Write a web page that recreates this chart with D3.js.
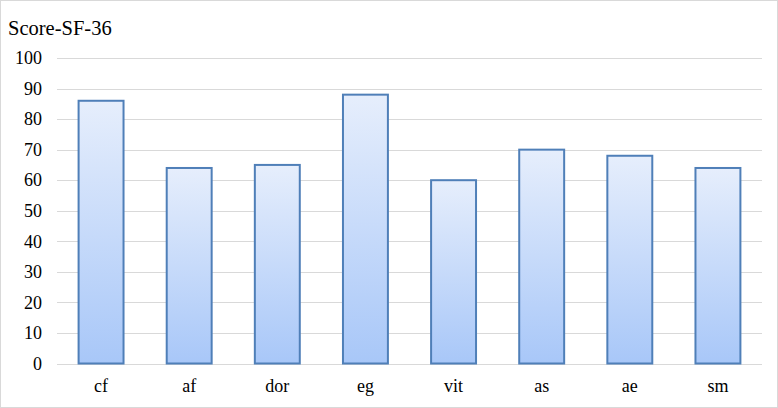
<!DOCTYPE html>
<html>
<head>
<meta charset="utf-8">
<style>
	body{margin:0;background:#fff;}
	svg{display:block;}
	svg text{font-family:"Liberation Serif","Times New Roman",serif !important;fill:#000;}
</style>
</head>
<body>
<script src="https://cdn.jsdelivr.net/npm/d3@7"></script>
<script>
	var categories=["cf","af","dor","eg","vit","as","ae","sm"];
	var scores=[86,64,65,88,60,70,68,64];
	var yTicks=[0,10,20,30,40,50,60,70,80,90,100];

	var width=778, height=408;
	var margin={top:58,right:16,bottom:44.5,left:57};

	var svg=d3.select("body").append("svg")
		.attr("width",width)
		.attr("height",height);

	// 渐变
	var grad=svg.append("defs").append("linearGradient")
		.attr("id","barGrad")
		.attr("x1",0).attr("y1",0).attr("x2",0).attr("y2",1);
	grad.append("stop").attr("offset","0%").attr("stop-color","#e6eefc");
	grad.append("stop").attr("offset","100%").attr("stop-color","#a8c7f8");

	// chart frame
	svg.append("rect")
		.attr("x",0.5).attr("y",0.5)
		.attr("width",width-1).attr("height",height-1)
		.attr("fill","none").attr("stroke","#d9d9d9");

	var x=d3.scaleBand()
		.domain(categories)
		.range([margin.left,width-margin.right])
		.paddingInner(0.49)
		.paddingOuter(0.245);

	var y=d3.scaleLinear()
		.domain([0,100])
		.range([height-margin.bottom,margin.top]);

	// grid
	svg.append("g")
		.selectAll("line")
		.data(yTicks)
		.enter()
		.append("line")
		.attr("x1",margin.left)
		.attr("x2",width-margin.right)
		.attr("y1",function(d){return Math.round(y(d))+0.5;})
		.attr("y2",function(d){return Math.round(y(d))+0.5;})
		.attr("stroke","#d9d9d9")
		.attr("stroke-width",1);

	// y axis labels
	var yAxis=d3.axisLeft(y).tickValues(yTicks).tickSize(0).tickPadding(0);
	var gy=svg.append("g")
		.attr("transform","translate(42,0)")
		.call(yAxis);
	gy.select(".domain").remove();
	gy.selectAll("text")
		.style("font-size","18px")
		.attr("dy","0.32em");

	// bars
	svg.selectAll(".bar")
		.data(scores)
		.enter()
		.append("rect")
		.attr("class","bar")
		.attr("x",function(d,i){return x(categories[i]);})
		.attr("y",function(d){return y(d);})
		.attr("width",x.bandwidth())
		.attr("height",function(d){return y(0)-y(d);})
		.attr("fill","url(#barGrad)")
		.attr("stroke","#4f7fb8")
		.attr("stroke-width",2);

	// x axis labels
	var xAxis=d3.axisBottom(x).tickSize(0).tickPadding(0);
	var gx=svg.append("g")
		.attr("transform","translate(0,"+(height-margin.bottom)+")")
		.call(xAxis);
	gx.select(".domain").remove();
	gx.selectAll("text")
		.style("font-size","18px")
		.attr("dy",null)
		.attr("y",28);

	// title
	svg.append("text")
		.attr("x",8)
		.attr("y",35)
		.style("font-size","20.5px")
		.text("Score-SF-36");
</script>
</body>
</html>
